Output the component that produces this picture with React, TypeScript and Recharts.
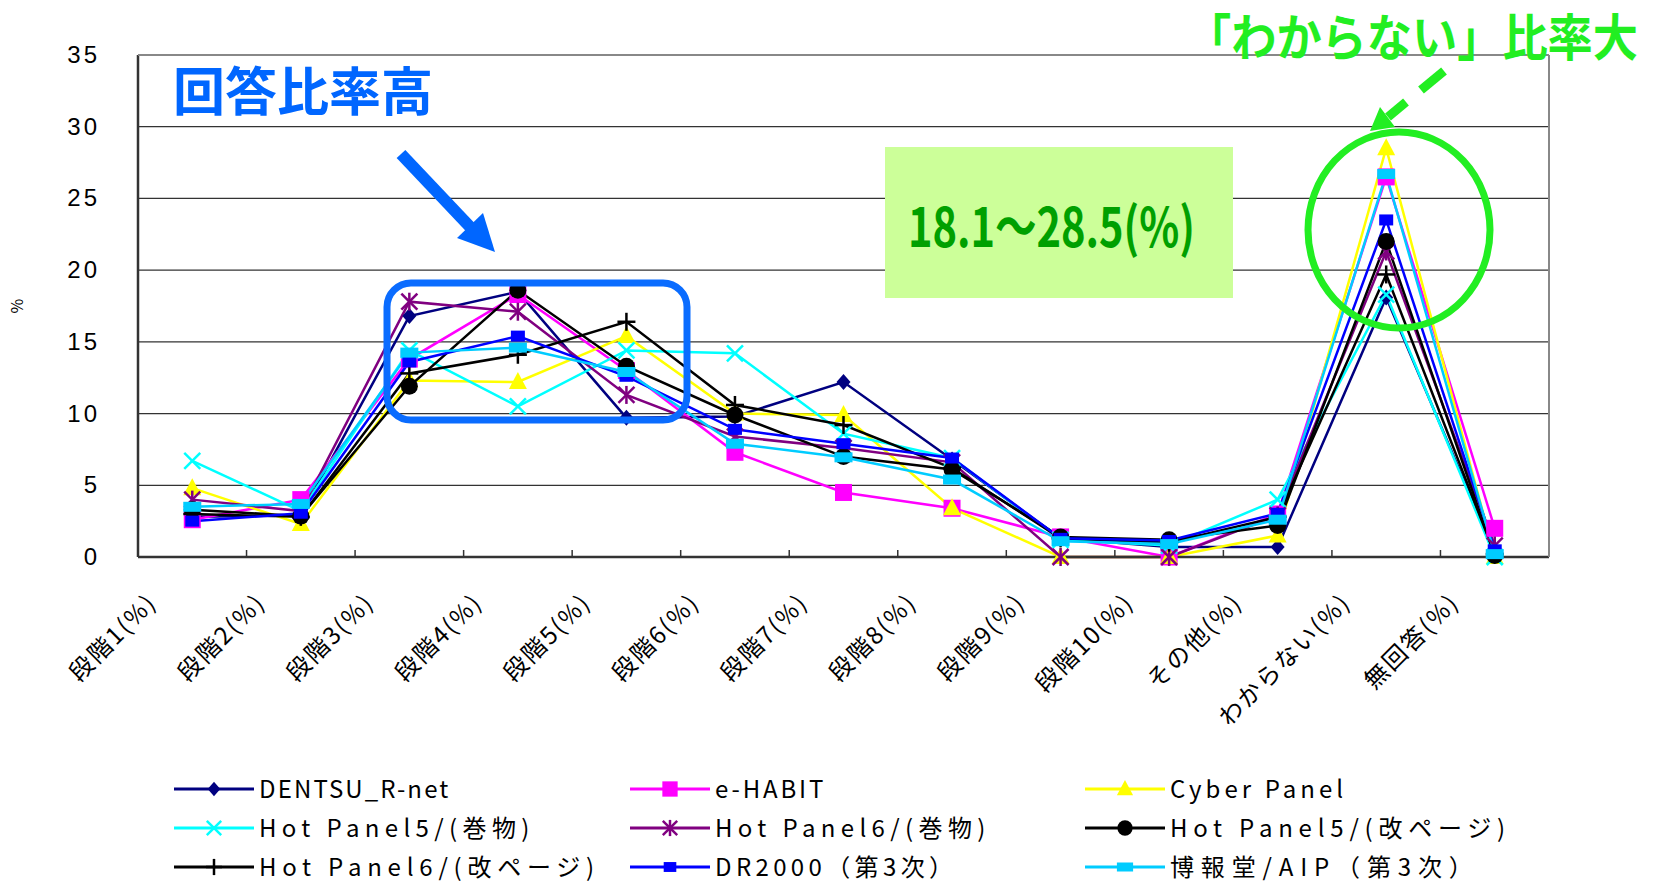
import { LineChart, Line, XAxis, YAxis, CartesianGrid } from 'recharts'

const CATEGORIES = [
  '段階1(%)', '段階2(%)', '段階3(%)', '段階4(%)', '段階5(%)', '段階6(%)', '段階7(%)',
  '段階8(%)', '段階9(%)', '段階10(%)', 'その他(%)', 'わからない(%)', '無回答(%)',
]

const DENTSU = [2.8, 2.9, 16.8, 18.5, 9.7, 9.8, 12.2, 6.8, 1.3, 0.7, 0.7, 18.1, 0.3]
const E_HABIT = [2.6, 4.0, 13.8, 18.3, 13.0, 7.3, 4.5, 3.4, 1.4, 0, 3.0, 26.5, 2.0]
const CYBER = [4.8, 2.3, 12.3, 12.2, 15.4, 10.0, 9.9, 3.4, 0, 0, 1.5, 28.5, 0]
const HP5_SCROLL = [6.7, 3.2, 14.4, 10.5, 14.4, 14.2, 8.6, 6.9, 1.2, 0.8, 4.0, 18.3, 0]
const HP6_SCROLL = [4.0, 3.2, 17.8, 17.1, 11.3, 8.4, 7.6, 6.6, 0, 0, 2.9, 21.3, 0.8]
const HP5_PAGE = [3.3, 2.85, 11.9, 18.6, 13.3, 9.9, 7.0, 6.1, 1.4, 1.2, 2.2, 22.0, 0.1]
const HP6_PAGE = [3.0, 2.8, 12.8, 14.1, 16.4, 10.6, 9.2, 6.2, 1.3, 1.0, 2.8, 19.7, 0.2]
const DR2000 = [2.5, 3.05, 13.6, 15.4, 12.6, 8.9, 7.9, 6.9, 1.3, 1.15, 3.05, 23.5, 0.5]
const HAKUHODO = [3.5, 3.7, 14.25, 14.6, 12.9, 7.9, 6.95, 5.4, 1.1, 0.9, 2.6, 26.7, 0.2]

const Y_TICKS = [0, 5, 10, 15, 20, 25, 30, 35]

const SERIES = [
  { key: 's0', name: 'DENTSU_R-net', color: '#000080', shape: 'diamond', values: DENTSU },
  { key: 's1', name: 'e-HABIT', color: '#ff00ff', shape: 'square', values: E_HABIT },
  { key: 's2', name: 'Cyber Panel', color: '#ffff00', shape: 'triangle', values: CYBER },
  { key: 's3', name: 'Hot Panel5/(巻物)', color: '#00ffff', shape: 'x', values: HP5_SCROLL },
  { key: 's4', name: 'Hot Panel6/(巻物)', color: '#800080', shape: 'asterisk', values: HP6_SCROLL },
  { key: 's5', name: 'Hot Panel5/(改ページ)', color: '#000000', shape: 'circle', values: HP5_PAGE },
  { key: 's6', name: 'Hot Panel6/(改ページ)', color: '#000000', shape: 'plus', values: HP6_PAGE },
  { key: 's7', name: 'DR2000（第3次）', color: '#0000ff', shape: 'small', values: DR2000 },
  { key: 's8', name: '博報堂/AIP（第3次）', color: '#00ccff', shape: 'rect', values: HAKUHODO },
]

const data = CATEGORIES.map((name, i) => {
  const row: Record<string, string | number> = { name }
  SERIES.forEach((s) => (row[s.key] = s.values[i]))
  return row
})

// plot box
const W = 1657
const H = 881
const LEFT = 138
const TOP = 55
const RIGHT = 1549
const BOTTOM = 557
const BAND = (RIGHT - LEFT) / CATEGORIES.length

function Marker({ shape, color, cx, cy, k = 1 }: { shape: string; color: string; cx: number; cy: number; k?: number }) {
  const s = k
  switch (shape) {
    case 'diamond':
      return <polygon points={`${cx},${cy - 8 * s} ${cx + 7 * s},${cy} ${cx},${cy + 8 * s} ${cx - 7 * s},${cy}`} fill={color} />
    case 'square':
      return <rect x={cx - 8.5 * s} y={cy - 8.5 * s} width={17 * s} height={17 * s} fill={color} />
    case 'triangle':
      return <polygon points={`${cx},${cy - 10 * s} ${cx + 9 * s},${cy + 7 * s} ${cx - 9 * s},${cy + 7 * s}`} fill={color} />
    case 'x':
      return (
        <g stroke={color} strokeWidth={2.5}>
          <line x1={cx - 8 * s} y1={cy - 8 * s} x2={cx + 8 * s} y2={cy + 8 * s} />
          <line x1={cx - 8 * s} y1={cy + 8 * s} x2={cx + 8 * s} y2={cy - 8 * s} />
        </g>
      )
    case 'asterisk':
      return (
        <g stroke={color} strokeWidth={2.5}>
          <line x1={cx - 8 * s} y1={cy - 8 * s} x2={cx + 8 * s} y2={cy + 8 * s} />
          <line x1={cx - 8 * s} y1={cy + 8 * s} x2={cx + 8 * s} y2={cy - 8 * s} />
          <line x1={cx} y1={cy - 9 * s} x2={cx} y2={cy + 9 * s} />
        </g>
      )
    case 'circle':
      return <circle cx={cx} cy={cy} r={8.5 * s} fill={color} />
    case 'plus':
      return (
        <g stroke={color} strokeWidth={2.5}>
          <line x1={cx - 9 * s} y1={cy} x2={cx + 9 * s} y2={cy} />
          <line x1={cx} y1={cy - 9 * s} x2={cx} y2={cy + 9 * s} />
        </g>
      )
    case 'small':
      return <rect x={cx - 7 * s} y={cy - 5.5 * s} width={14 * s} height={11 * s} fill={color} />
    case 'rect':
      return <rect x={cx - 9 * s} y={cy - 5 * s} width={18 * s} height={10 * s} fill={color} />
    default:
      return null
  }
}

const dotFor = (shape: string, color: string) => (props: any) => {
  if (props.cx == null || props.cy == null) return <g key={props.index} />
  return (
    <g key={`${shape}-${props.index}`}>
      <Marker shape={shape} color={color} cx={props.cx} cy={props.cy} />
    </g>
  )
}

function CategoryTick({ x, y, payload }: any) {
  const ax = x - 34
  const ay = y + 47
  return (
    <g>
      <line x1={x - BAND / 2} y1={y} x2={x - BAND / 2} y2={y - 7} stroke="#333" strokeWidth={1.5} />
      <text
        x={ax}
        y={ay}
        textAnchor="end"
        transform={`rotate(-45, ${ax}, ${ay})`}
        fontSize={24}
        letterSpacing={2}
        fontFamily="'Noto Sans CJK JP', sans-serif"
        fill="#000"
      >
        {payload.value}
      </text>
    </g>
  )
}

function ValueTick({ x, y, payload }: any) {
  return (
    <text
      x={x - 38}
      y={y + 8}
      textAnchor="end"
      fontSize={24}
      letterSpacing={3}
      fontFamily="'Liberation Sans Narrow', 'Liberation Sans', sans-serif"
      fill="#000"
    >
      {payload.value}
    </text>
  )
}

const unitsOf = (t: string) => Array.from(t).reduce((n, ch) => n + (ch.charCodeAt(0) > 0xff ? 2 : 1), 0)

const LEGEND_ROWS = [789, 828, 867]
const LEGEND_COLS = [174, 630, 1085]

function LegendBlock() {
  return (
    <svg width={W} height={H} style={{ position: 'absolute', left: 0, top: 0, pointerEvents: 'none' }}>
      {SERIES.map((s, i) => {
        const x0 = LEGEND_COLS[i % 3]
        const y0 = LEGEND_ROWS[Math.floor(i / 3)]
        const units = unitsOf(s.name)
        return (
          <g key={s.key}>
            <line x1={x0} y1={y0} x2={x0 + 80} y2={y0} stroke={s.color} strokeWidth={3} />
            <Marker shape={s.shape} color={s.color} cx={x0 + 40} cy={y0} k={0.9} />
            <text
              x={x0 + 85}
              y={y0 + 9}
              fontSize={24}
              fontFamily="'Noto Sans CJK JP', sans-serif"
              textLength={units * 16.2 - 5}
              lengthAdjust="spacing"
              fill="#000"
            >
              {s.name}
            </text>
          </g>
        )
      })}
    </svg>
  )
}

function Annotations() {
  return (
    <svg width={W} height={H} style={{ position: 'absolute', left: 0, top: 0, pointerEvents: 'none' }}>
      {/* plot frame */}
      <line x1={LEFT} y1={TOP} x2={RIGHT} y2={TOP} stroke="#888" strokeWidth={2} />
      <line x1={RIGHT} y1={TOP} x2={RIGHT} y2={BOTTOM} stroke="#888" strokeWidth={2} />

      <text x={23} y={306} fontSize={16} textAnchor="middle" transform="rotate(-90, 23, 306)" fontFamily="'Noto Sans CJK JP', sans-serif">
        %
      </text>

      {/* 回答比率高 */}
      <text
        x={173}
        y={111}
        fontSize={52}
        fontWeight={700}
        fill="#0066ff"
        fontFamily="'Noto Sans CJK JP', sans-serif"
        textLength={260}
        lengthAdjust="spacingAndGlyphs"
      >
        回答比率高
      </text>
      <line x1={401} y1={154} x2={472} y2={229} stroke="#0066ff" strokeWidth={12} />
      <polygon points="495,252 457,238 483,213" fill="#0066ff" />
      <rect x={387} y={283} width={300} height={137} rx={24} fill="none" stroke="#0a6cff" strokeWidth={7} />

      {/* range box */}
      <rect x={885} y={147} width={348} height={151} fill="#ccff99" />
      <text
        x={908}
        y={247}
        fontSize={54}
        fontWeight={700}
        fill="#00a000"
        fontFamily="'Noto Sans CJK JP', sans-serif"
        textLength={287}
        lengthAdjust="spacingAndGlyphs"
      >
        18.1～28.5(%)
      </text>

      {/* わからない */}
      <text
        x={1186}
        y={56}
        fontSize={50}
        fontWeight={700}
        fill="#22ee22"
        fontFamily="'Noto Sans CJK JP', sans-serif"
        textLength={452}
        lengthAdjust="spacingAndGlyphs"
      >
        「わからない」比率大
      </text>
      <line x1={1444} y1={71} x2={1421} y2={90} stroke="#22ee22" strokeWidth={9} />
      <line x1={1406} y1={102} x2={1388} y2={117} stroke="#22ee22" strokeWidth={9} />
      <polygon points="1370,131 1395,127 1380,107" fill="#22ee22" />
      <ellipse cx={1399} cy={230} rx={91} ry={98} fill="none" stroke="#22ee22" strokeWidth={7} />
    </svg>
  )
}

export default function App() {
  return (
    <div style={{ position: 'absolute', left: 0, top: 0, width: W, height: H, background: '#fff' }}>
      <LineChart
        width={W}
        height={H}
        data={data}
        margin={{ top: TOP, right: W - RIGHT, bottom: H - BOTTOM - 30, left: LEFT - 60 }}
      >
        <CartesianGrid vertical={false} stroke="#333" strokeWidth={1.2} />
        <XAxis
          dataKey="name"
          interval={0}
          height={30}
          tickSize={0}
          tickMargin={0}
          padding={{ left: BAND / 2, right: BAND / 2 }}
          tick={<CategoryTick />}
          axisLine={{ stroke: '#333', strokeWidth: 2.5 }}
        />
        <YAxis
          domain={[0, 35]}
          ticks={Y_TICKS}
          width={60}
          tickSize={0}
          tickMargin={0}
          tick={<ValueTick />}
          axisLine={{ stroke: '#333', strokeWidth: 2.5 }}
          tickLine={false}
        />
        {SERIES.map((s) => (
          <Line
            key={s.key}
            dataKey={s.key}
            name={s.name}
            stroke={s.color}
            strokeWidth={2.5}
            dot={dotFor(s.shape, s.color)}
            activeDot={false}
            isAnimationActive={false}
          />
        ))}
      </LineChart>
      <Annotations />
      <LegendBlock />
    </div>
  )
}
